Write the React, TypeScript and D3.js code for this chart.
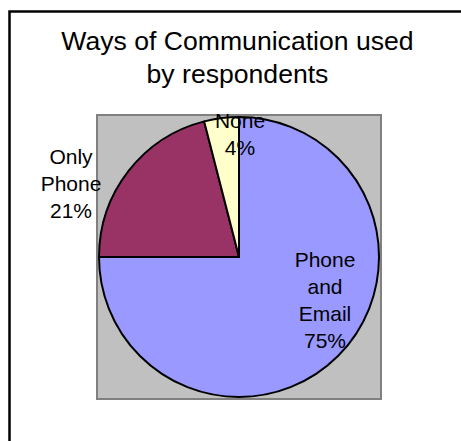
import React from "react";
import * as d3 from "d3";

const categories = ["Phone and Email", "Only Phone", "None"];
const values = [75, 21, 4];
const labelLines = [["Phone", "and", "Email", "75%"], ["Only", "Phone", "21%"], ["None", "4%"]];
const sliceColors = ["#9999FF", "#993366", "#FFFFCC"];
const titleLines = ["Ways of Communication used", "by respondents"];

const W = 461;
const H = 441;
const cx = 239;
const cy = 257;
const R = 140;

// label anchor offsets from pie center (layout), first-line baseline
const labelLayout: Record<string, { dx: number; dy: number }> = {
  "Phone and Email": { dx: 86, dy: 9.5 },
  "Only Phone": { dx: -168, dy: -93 },
  None: { dx: 1, dy: -129 },
};

export default function App() {
  const pie = d3
    .pie<number>()
    .sort(null)
    .value((d) => d)
    .startAngle(0)
    .endAngle(2 * Math.PI);
  const arcs = pie(values);
  const arc = d3.arc<d3.PieArcDatum<number>>().innerRadius(0).outerRadius(R);
  const font = "Liberation Sans, Arial, sans-serif";
  return (
    <div style={{ position: "absolute", left: 0, top: 0 }}>
      <svg width={W} height={H} style={{ display: "block" }}>
        <rect x={0} y={0} width={W} height={H} fill="#ffffff" />
        <rect x={9.5} y={11.5} width={520} height={520} fill="#ffffff" stroke="#000" strokeWidth={2.5} />
        <g fontFamily={font} fontSize={26.6} fill="#000" textAnchor="middle">
          {titleLines.map((t, i) => (
            <text key={i} x={237.5} y={50 + i * 33}>
              {t}
            </text>
          ))}
        </g>
        <rect x={97} y={115} width={284} height={284} fill="#C0C0C0" stroke="#808080" strokeWidth={2} />
        <g transform={`translate(${cx},${cy})`}>
          {arcs.map((a, i) => (
            <path key={i} d={arc(a) || ""} fill={sliceColors[i]} stroke="#000" strokeWidth={2} strokeLinejoin="round" />
          ))}
        </g>
        <g fontFamily={font} fontSize={21} fill="#000" textAnchor="middle">
          {categories.map((c, i) => {
            const l = labelLayout[c];
            return (
              <text key={c}>
                {labelLines[i].map((ln, j) => (
                  <tspan key={j} x={cx + l.dx} y={cy + l.dy + j * 27.2}>
                    {ln}
                  </tspan>
                ))}
              </text>
            );
          })}
        </g>
      </svg>
    </div>
  );
}
